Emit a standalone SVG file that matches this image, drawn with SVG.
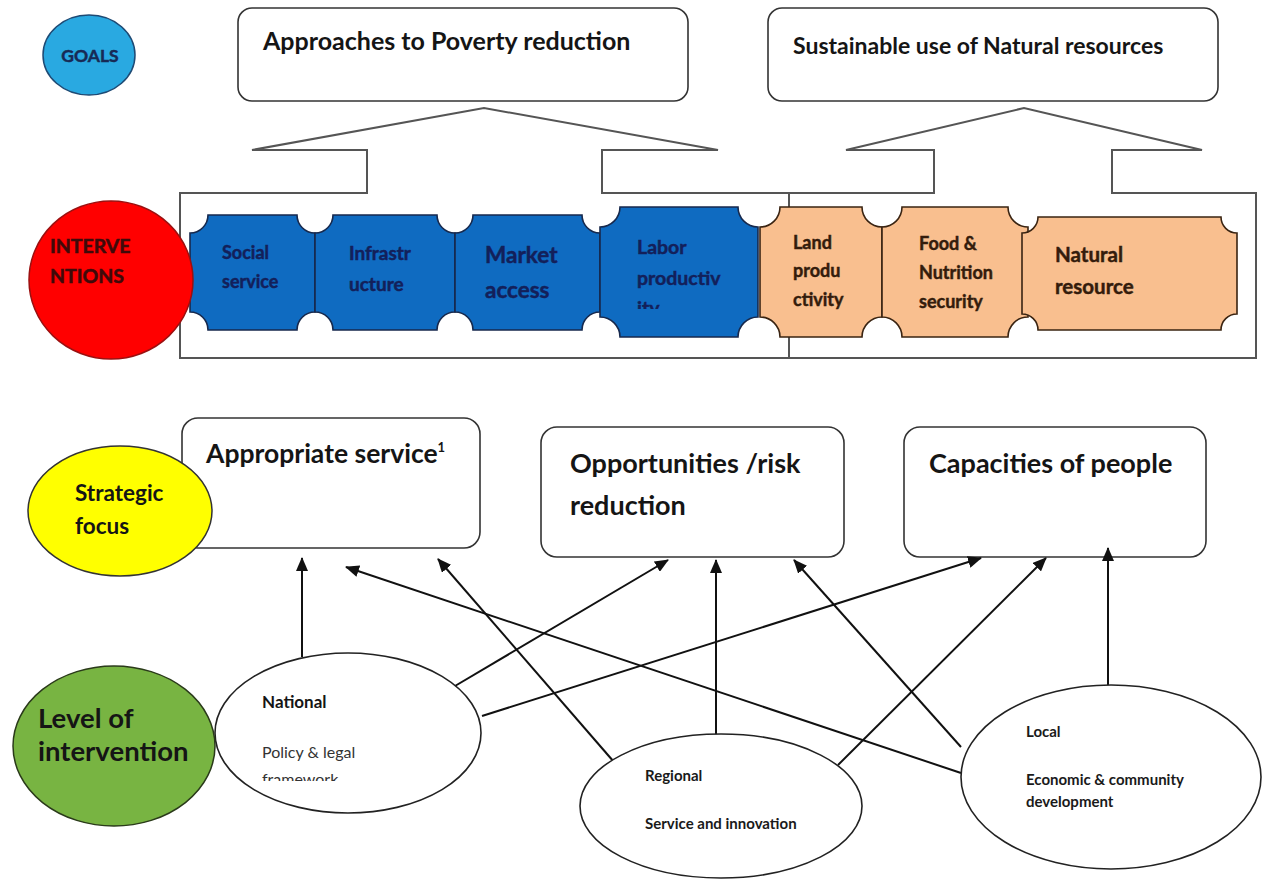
<svg xmlns="http://www.w3.org/2000/svg" width="1264" height="879" viewBox="0 0 1264 879">
<style>
  text { font-family: Lato, "Open Sans", "Liberation Sans", sans-serif; }
  .b { font-weight: bold; }
  .heavy { stroke-width: 0.45; }
  .box { fill: #fff; stroke: #333; stroke-width: 1.6; }
  .callout { fill: #fff; stroke: #555; stroke-width: 2; stroke-linejoin: miter; }
  .blue { fill: #0f6bc1; stroke: #17294d; stroke-width: 1.6; }
  .orange { fill: #f9bf8f; stroke: #3a2412; stroke-width: 1.6; }
  .btxt { fill: #13205a; stroke: #13205a; stroke-width: 0.45; font-weight: bold; }
  .otxt { fill: #341c0c; stroke: #341c0c; stroke-width: 0.45; font-weight: bold; }
  .ell { fill: #fff; stroke: #222; stroke-width: 1.6; }
  .conn { stroke: #111; stroke-width: 2; fill: none; marker-end: url(#ah); }
  .dark { fill: #151515; }
  .lvl { fill: #1a1a1a; font-weight: bold; font-size: 15px; }
</style>
<defs>
  <marker id="ah" markerUnits="userSpaceOnUse" markerWidth="14" markerHeight="12" refX="13" refY="6" orient="auto">
    <path d="M0,0 L14,6 L0,12 z" fill="#111"/>
  </marker>
  <clipPath id="clipLabor"><rect x="600" y="200" width="160" height="109"/></clipPath>
  <clipPath id="clipNat"><rect x="250" y="650" width="200" height="131"/></clipPath>
</defs>
<rect width="1264" height="879" fill="#fff"/>

<!-- Goal boxes -->
<g id="goal-approaches">
  <rect class="box" x="238" y="8" width="450" height="93" rx="14"/>
  <text class="b dark" x="263" y="50" font-size="25">Approaches to Poverty reduction</text>
</g>
<g id="goal-sustainable">
  <rect class="box" x="768" y="8" width="450" height="93" rx="14"/>
  <text class="b dark" x="793" y="54" font-size="23">Sustainable use of Natural resources</text>
</g>
<g id="goals-label">
  <ellipse cx="89" cy="55" rx="46" ry="40" fill="#29a9e1" stroke="#1e4a74" stroke-width="1.5"/>
  <text class="b" x="90" y="62" font-size="17.5" fill="#172a55" stroke="#172a55" stroke-width="0.45" text-anchor="middle">GOALS</text>
</g>

<!-- Interventions callouts -->
<g id="callout-poverty">
  <path class="callout" d="M180,358 L180,193 L367,193 L367,150 L252,150 L484,108 L718,150 L602,150 L602,193 L789,193 L789,358 Z"/>
</g>
<g id="callout-natural">
  <path class="callout" d="M789,358 L789,193 L934,193 L934,150 L846,150 L1024,108 L1202,150 L1112,150 L1112,193 L1256,193 L1256,358 Z"/>
</g>

<g id="tile-social">
  <path class="blue" d="M208,215 H297 A18 18 0 0 0 315,233 V312 A18 18 0 0 0 297,330 H208 A18 18 0 0 0 190,312 V233 A18 18 0 0 0 208,215 Z"/>
  <text class="btxt" x="222" y="259" font-size="18">Social</text>
  <text class="btxt" x="222" y="288" font-size="18">service</text>
</g>
<g id="tile-infrastructure">
  <path class="blue" d="M333,215 H437 A18 18 0 0 0 455,233 V312 A18 18 0 0 0 437,330 H333 A18 18 0 0 0 315,312 V233 A18 18 0 0 0 333,215 Z"/>
  <text class="btxt" x="349" y="260" font-size="19">Infrastr</text>
  <text class="btxt" x="349" y="291" font-size="19">ucture</text>
</g>
<g id="tile-market">
  <path class="blue" d="M473,215 H582 A18 18 0 0 0 600,233 V312 A18 18 0 0 0 582,330 H473 A18 18 0 0 0 455,312 V233 A18 18 0 0 0 473,215 Z"/>
  <text class="btxt" x="485" y="263" font-size="22.5">Market</text>
  <text class="btxt" x="485" y="298" font-size="22.5">access</text>
</g>
<g id="tile-labor">
  <path class="blue" d="M620,207 H738 A20 20 0 0 0 758,227 V317 A20 20 0 0 0 738,337 H620 A20 20 0 0 0 600,317 V227 A20 20 0 0 0 620,207 Z"/>
  <g clip-path="url(#clipLabor)">
    <text class="btxt" x="637" y="254" font-size="19.5">Labor</text>
    <text class="btxt" x="637" y="285" font-size="19.5">productiv</text>
    <text class="btxt" x="637" y="315" font-size="19.5">ity</text>
  </g>
</g>
<g id="tile-land">
  <path class="orange" d="M780,207 H862 A20 20 0 0 0 882,227 V317 A20 20 0 0 0 862,337 H780 A20 20 0 0 0 760,317 V227 A20 20 0 0 0 780,207 Z"/>
  <text class="otxt" x="793" y="249" font-size="18">Land</text>
  <text class="otxt" x="793" y="277" font-size="18">produ</text>
  <text class="otxt" x="793" y="306" font-size="18">ctivity</text>
</g>
<g id="tile-food">
  <path class="orange" d="M902,207 H1008 A20 20 0 0 0 1028,227 V317 A20 20 0 0 0 1008,337 H902 A20 20 0 0 0 882,317 V227 A20 20 0 0 0 902,207 Z"/>
  <text class="otxt" x="919" y="250" font-size="18">Food &amp;</text>
  <text class="otxt" x="919" y="279" font-size="18">Nutrition</text>
  <text class="otxt" x="919" y="308" font-size="18">security</text>
</g>
<g id="tile-natural">
  <path class="orange" d="M1038,217 H1221 A16 16 0 0 0 1237,233 V314 A16 16 0 0 0 1221,330 H1038 A16 16 0 0 0 1022,314 V233 A16 16 0 0 0 1038,217 Z"/>
  <text class="otxt" x="1055" y="262" font-size="20.5">Natural</text>
  <text class="otxt" x="1055" y="294" font-size="20.5">resource</text>
</g>
<g id="interventions-label">
  <ellipse cx="111" cy="280" rx="82" ry="79" fill="#ff0000" stroke="#9b1010" stroke-width="1.5"/>
  <text class="b" x="50" y="253" font-size="19.5" fill="#3e0a0a" stroke="#3e0a0a" stroke-width="0.5">INTERVE</text>
  <text class="b" x="50" y="283" font-size="19.5" fill="#3e0a0a" stroke="#3e0a0a" stroke-width="0.5">NTIONS</text>
</g>

<!-- Strategic focus -->
<g id="focus-appropriate">
  <rect class="box" x="182" y="418" width="298" height="130" rx="16"/>
  <text class="b dark" x="206" y="463" font-size="26.5">Appropriate service<tspan font-size="13" dy="-11">1</tspan></text>
</g>
<g id="focus-opportunities">
  <rect class="box" x="541" y="427" width="303" height="130" rx="16"/>
  <text class="b dark" x="570" y="473" font-size="27">Opportunities /risk</text>
  <text class="b dark" x="570" y="515" font-size="27">reduction</text>
</g>
<g id="focus-capacities">
  <rect class="box" x="904" y="427" width="302" height="130" rx="16"/>
  <text class="b dark" x="929" y="473" font-size="27">Capacities of people</text>
</g>
<g id="strategic-label">
  <ellipse cx="120" cy="511" rx="92" ry="65" fill="#ffff00" stroke="#333" stroke-width="1.5"/>
  <text class="b dark" x="75" y="501" font-size="22.5">Strategic</text>
  <text class="b dark" x="75" y="534" font-size="22.5">focus</text>
</g>

<!-- Connectors -->
<g id="connectors">
  <line class="conn" x1="302" y1="657" x2="302" y2="558"/>
  <line class="conn" x1="961" y1="773" x2="346" y2="567"/>
  <line class="conn" x1="614" y1="762" x2="438" y2="559"/>
  <line class="conn" x1="455" y1="686" x2="668" y2="560"/>
  <line class="conn" x1="716" y1="735" x2="716" y2="560"/>
  <line class="conn" x1="961" y1="747" x2="794" y2="560"/>
  <line class="conn" x1="482" y1="716" x2="981" y2="558"/>
  <line class="conn" x1="838" y1="765" x2="1046" y2="558"/>
  <line class="conn" x1="1108" y1="685" x2="1108" y2="548"/>
</g>

<!-- Levels -->
<g id="level-national">
  <ellipse class="ell" cx="348" cy="733" rx="133" ry="80"/>
  <text class="b dark" x="262" y="708" font-size="17">National</text>
  <text x="262" y="758" font-size="16" fill="#333">Policy &amp; legal</text>
  <g clip-path="url(#clipNat)"><text x="262" y="785" font-size="16" fill="#333">framework</text></g>
</g>
<g id="level-regional">
  <ellipse class="ell" cx="721" cy="806" rx="141" ry="72"/>
  <text class="lvl" x="645" y="781">Regional</text>
  <text class="lvl" x="645" y="829">Service and innovation</text>
</g>
<g id="level-local">
  <ellipse class="ell" cx="1111" cy="777" rx="150" ry="92"/>
  <text class="lvl" x="1026" y="737">Local</text>
  <text class="lvl" x="1026" y="785">Economic &amp; community</text>
  <text class="lvl" x="1026" y="807">development</text>
</g>
<g id="level-label">
  <ellipse cx="114" cy="746" rx="101" ry="80" fill="#78b442" stroke="#2a3a1a" stroke-width="1.5"/>
  <text class="b dark" x="38" y="728" font-size="27.5">Level of</text>
  <text class="b dark" x="38" y="761" font-size="27.5">intervention</text>
</g>
</svg>
